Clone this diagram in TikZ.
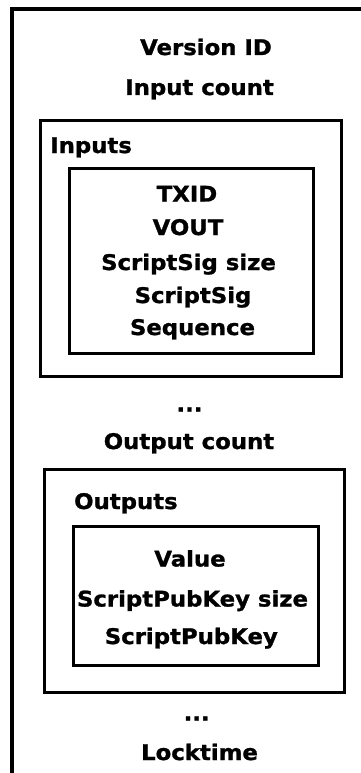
\documentclass[tikz,border=0pt]{standalone}
\usepackage{fontspec}
\newfontfamily\fieldfont{DejaVu Sans}[FakeStretch=1.06,BoldFeatures={FakeBold=1.2}]
\begin{document}
\begin{tikzpicture}[x=1pt,y=-1pt,
  frame/.style={draw=black, line width=3.6pt},
  group/.style={draw=black, line width=3pt},
  field/.style={font=\fieldfont\bfseries\fontsize{21.5}{21.5}\selectfont, inner sep=0pt, anchor=base},
  heading/.style={field, anchor=base west}]
\useasboundingbox (0,0) rectangle (360,773);

% transaction frame (open to the right and bottom)
\coordinate (frameBL) at (12,790);
\coordinate (frameTL) at (12,8.8);
\coordinate (frameTR) at (380,8.8);
\draw[frame] (frameBL) -- (frameTL) -- (frameTR);

% header fields
\node[field] (version) at (206,55) {Version ID};
\node[field] (incount) at (199.5,95) {Input count};

% inputs
\draw[group] (40.3,120.3) rectangle (341.7,376.7);
\node[heading] (inputs) at (50,153) {Inputs};
\draw[group] (69.7,168.7) rectangle (313,353.5);
\node[field] (txid) at (187,201.5) {TXID};
\node[field] (vout) at (188,235) {VOUT};
\node[field] (sigsize) at (188.5,270) {ScriptSig size};
\node[field] (sig) at (193,303) {ScriptSig};
\node[field] (seq) at (192.5,335) {Sequence};

\node[field] (moreins) at (189.5,411.5) {...};
\node[field] (outcount) at (189,449) {Output count};

% outputs
\draw[group] (44.5,469.5) rectangle (344.3,692.5);
\node[heading] (outputs) at (74,509) {Outputs};
\draw[group] (73.2,526.5) rectangle (318,665.8);
\node[field] (value) at (190,566.5) {Value};
\node[field] (pksize) at (192.5,606.5) {ScriptPubKey size};
\node[field] (pk) at (191.3,644) {ScriptPubKey};

\node[field] (moreouts) at (196.7,720.5) {...};
\node[field] (locktime) at (199.5,760) {Locktime};
\end{tikzpicture}
\end{document}
